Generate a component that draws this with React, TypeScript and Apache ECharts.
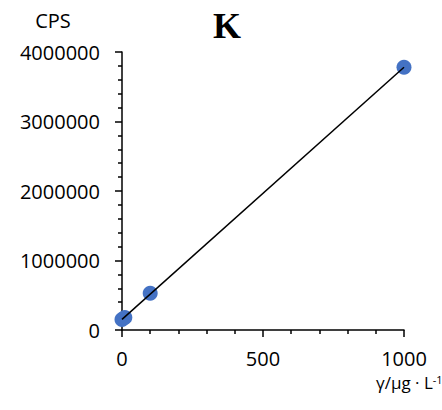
import React, { useEffect, useRef } from "react";
import * as echarts from "echarts";

const concentrations = [0, 10, 100, 1000];
const cpsValues = [150000, 180000, 530000, 3780000];
const xTicks = { min: 0, max: 1000, interval: 500 };
const yTicks = { min: 0, max: 4000000, interval: 1000000 };
const titleText = "K";
const yName = "CPS";
const xNameMain = "γ/μg · L";
const xNameSup = "-1";

function linearFit(xs: number[], ys: number[]) {
  const n = xs.length;
  const mx = xs.reduce((a, b) => a + b, 0) / n;
  const my = ys.reduce((a, b) => a + b, 0) / n;
  let sxy = 0;
  let sxx = 0;
  for (let i = 0; i < n; i++) {
    sxy += (xs[i] - mx) * (ys[i] - my);
    sxx += (xs[i] - mx) * (xs[i] - mx);
  }
  const slope = sxy / sxx;
  return { slope, intercept: my - slope * mx };
}

export default function App() {
  const ref = useRef<HTMLDivElement>(null);
  useEffect(() => {
    if (!ref.current) return;
    const chart = echarts.init(ref.current, null, { renderer: "svg" });
    const fit = linearFit(concentrations, cpsValues);
    const xs0 = Math.min(...concentrations);
    const xs1 = Math.max(...concentrations);
    const trend = [
      [xs0, fit.intercept + fit.slope * xs0],
      [xs1, fit.intercept + fit.slope * xs1],
    ];
    const font = "'Open Sans', 'Liberation Sans', sans-serif";
    chart.setOption({
      animation: false,
      backgroundColor: "#ffffff",
      grid: { left: 122, top: 52, right: 38, bottom: 80, containLabel: false },
      xAxis: {
        type: "value",
        min: xTicks.min,
        max: xTicks.max,
        interval: xTicks.interval,
        splitLine: { show: false },
        axisLine: { lineStyle: { color: "#000", width: 1.5 } },
        axisTick: { length: 7, lineStyle: { color: "#000", width: 1.5 } },
        minorTick: { show: true, splitNumber: 5, length: 4, lineStyle: { color: "#000", width: 1.5 } },
        axisLabel: {
          color: "#000",
          fontSize: 20,
          fontFamily: font,
          margin: 18,
          lineHeight: 20,
          formatter: (v: number) => String(v),
        },
      },
      yAxis: {
        type: "value",
        min: yTicks.min,
        max: yTicks.max,
        interval: yTicks.interval,
        splitLine: { show: false },
        axisLine: { show: true, lineStyle: { color: "#000", width: 1.5 } },
        axisTick: { show: true, length: 7, lineStyle: { color: "#000", width: 1.5 } },
        minorTick: { show: true, splitNumber: 5, length: 4, lineStyle: { color: "#000", width: 1.5 } },
        axisLabel: {
          color: "#000",
          fontSize: 20,
          fontFamily: font,
          margin: 22,
          formatter: (v: number) => String(v),
        },
      },
      graphic: [
        {
          type: "text",
          x: 227,
          y: 26,
          style: {
            text: titleText,
            font: "bold 36px 'Liberation Serif', 'Times New Roman', serif",
            fill: "#000",
            textAlign: "center",
            textVerticalAlign: "middle",
          },
        },
        {
          type: "text",
          x: 53,
          y: 20,
          style: {
            text: yName,
            font: "20px " + font,
            fill: "#000",
            textAlign: "center",
            textVerticalAlign: "middle",
          },
        },
        {
          type: "text",
          x: 376,
          y: 382,
          style: {
            text: "{a|" + xNameMain + "}{b|" + xNameSup + "}",
            textVerticalAlign: "middle",
            rich: {
              a: { fontSize: 17, fontFamily: font, color: "#000", lineHeight: 17 },
              b: { fontSize: 11, fontFamily: font, color: "#000", verticalAlign: "top", lineHeight: 11, padding: [0, 0, 8, 0] },
            },
          },
        },
      ],
      series: [
        {
          type: "line",
          data: trend,
          showSymbol: false,
          symbol: "none",
          lineStyle: { color: "#000", width: 1.5 },
          z: 3,
        },
        {
          type: "scatter",
          data: concentrations.map((x, i) => [x, cpsValues[i]]),
          symbolSize: 15,
          itemStyle: { color: "#4472C4", opacity: 1 },
          z: 2,
        },
      ],
    });
    return () => chart.dispose();
  }, []);
  return <div ref={ref} style={{ width: 442, height: 410, position: "absolute", left: 0, top: 0 }} />;
}
